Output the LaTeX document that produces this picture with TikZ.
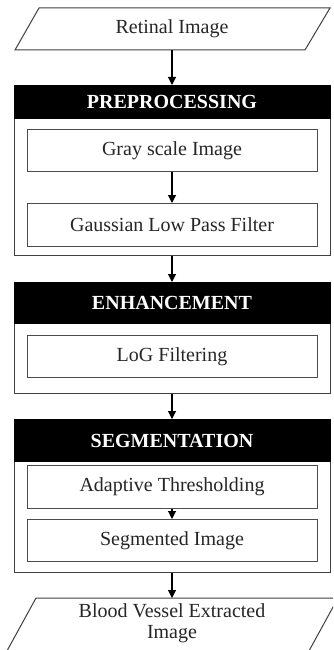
\documentclass[tikz,border=0pt]{standalone}
\usepackage{fontspec}
\setmainfont{Liberation Serif}
\usetikzlibrary{arrows.meta}
\begin{document}
\begin{tikzpicture}[x=1pt,y=-1pt,
  txt/.style={font=\fontsize{20}{21}\selectfont, text=black!85, align=center},
  frame/.style={draw=black!75, line width=1pt, minimum width=316pt, inner sep=0pt, anchor=north},
  header/.style={fill=black, draw=black, line width=1pt, text=white, font=\fontsize{20}{24}\selectfont\bfseries, minimum width=316pt, inner sep=0pt, anchor=north},
  proc/.style={txt, draw=black!70, line width=1pt, fill=white, minimum width=290pt, minimum height=42pt, inner sep=0pt, anchor=north},
  io/.style={txt, minimum width=280pt, inner sep=0pt, anchor=north},
  para/.style={draw=black!75, line width=1pt},
  arr/.style={-{Triangle[length=8pt,width=8pt]}, line width=1.1pt, black}
]
\clip (0,0) rectangle (333,650);
\fill[white] (0,0) rectangle (333,650);

% input
\draw[para] (39,8) -- (330,8) -- (305,50) -- (15,50) -- cycle;
\node[io, minimum height=42pt] (in) at (172,8) {Retinal Image};

% preprocessing
\node[frame, minimum height=170pt] (preF) at (172,85) {};
\node[header, minimum height=33pt] (pre) at (172,85) {PREPROCESSING};
\node[proc] (gray) at (172,129) {Gray scale Image};
\node[proc, minimum height=43pt] (gauss) at (172,203) {Gaussian Low Pass Filter};

% enhancement
\node[frame, minimum height=111pt] (enhF) at (172,282) {};
\node[header, minimum height=41pt] (enh) at (172,282) {ENHANCEMENT};
\node[proc] (log) at (172,335) {LoG Filtering};

% segmentation
\node[frame, minimum height=153pt] (segF) at (172,419) {};
\node[header, minimum height=42pt] (seg) at (172,419) {SEGMENTATION};
\node[proc, minimum height=43pt] (adapt) at (172,465) {Adaptive Thresholding};
\node[proc] (segimg) at (172,519) {Segmented Image};

% output
\draw[para] (36,598) -- (338,598) -- (304,660) -- (2,660) -- cycle;
\node[io, minimum height=50pt] (out) at (172,598) {Blood Vessel Extracted\\Image};

% connectors
\draw[arr] (in.south) -- (pre.north);
\draw[arr] (gray.south) -- (gauss.north);
\draw[arr] (preF.south) -- (enh.north);
\draw[arr] (enhF.south) -- (seg.north);
\draw[arr] (adapt.south) -- (segimg.north);
\draw[arr] (segF.south) -- (out.north);
\end{tikzpicture}
\end{document}
